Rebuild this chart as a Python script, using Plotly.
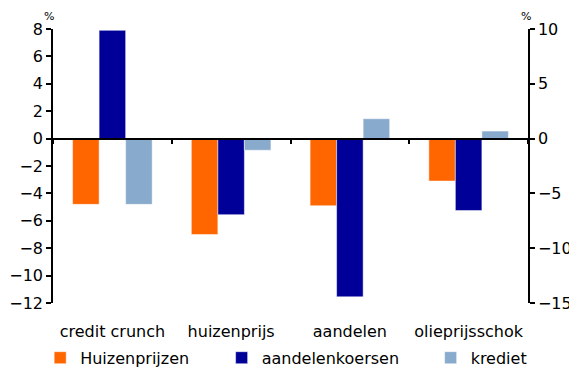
import plotly.graph_objects as go

# Scenario categories and the three shocked series (percent deviation)
categories = ["credit crunch", "huizenprijs", "aandelen", "olieprijsschok"]
huizenprijzen = [-4.8, -7.0, -4.9, -3.1]
aandelenkoersen = [7.9, -5.55, -11.55, -5.25]
krediet = [-4.8, -0.85, 1.45, 0.55]

series_names = ["Huizenprijzen", "aandelenkoersen", "krediet"]
series_values = [huizenprijzen, aandelenkoersen, krediet]
series_colors = ["#FF6600", "#000099", "#88AACC"]

left_ticks = list(range(-12, 9, 2))
right_ticks = list(range(-15, 11, 5))

FONT = "DejaVu Sans"

fig = go.Figure()
legend_ids = ["legend", "legend2", "legend3"]
for name, vals, col, lg in zip(series_names, series_values, series_colors, legend_ids):
    fig.add_trace(go.Bar(
        x=categories, y=vals, name=name,
        marker=dict(color=col, line=dict(color="rgba(255,255,255,0.6)", width=0.8)),
        legend=lg,
    ))

legend_common = dict(orientation="h", yanchor="middle", y=-0.2,
                     xanchor="left", bgcolor="rgba(0,0,0,0)",
                     font=dict(family=FONT, size=16, color="#000"),
                     itemwidth=30, tracegroupgap=0)

fig.update_layout(
    width=569, height=370,
    margin=dict(l=53, r=41, t=29, b=67, autoexpand=False),
    paper_bgcolor="white", plot_bgcolor="white",
    barmode="group", bargap=0.33, bargroupgap=0,
    showlegend=True,
    legend=dict(x=-0.027, **legend_common),
    legend2=dict(x=0.355, **legend_common),
    legend3=dict(x=0.795, **legend_common),
    xaxis=dict(
        type="category", anchor="free", position=0.6,
        showline=True, linecolor="#000", linewidth=1.5,
        ticks="outside", tickson="boundaries", ticklen=5,
        tickcolor="#000", tickwidth=1.5,
        tickangle=0, ticklabelstandoff=178,
        tickfont=dict(family=FONT, size=16, color="#000"),
        showgrid=False, zeroline=False,
    ),
    yaxis=dict(
        range=[-12, 8], tickvals=left_ticks,
        ticks="outside", ticklen=5, tickcolor="#000", tickwidth=1.5,
        showline=True, linecolor="#000", linewidth=1.5,
        showgrid=False, zeroline=False,
        tickfont=dict(family=FONT, size=16, color="#000"),
    ),
    yaxis2=dict(
        range=[-15, 10], tickvals=right_ticks, overlaying="y", side="right",
        ticks="outside", ticklen=5, tickcolor="#000", tickwidth=1.5,
        showline=True, linecolor="#000", linewidth=1.5,
        showgrid=False, zeroline=False,
        tickfont=dict(family=FONT, size=16, color="#000"),
    ),
)

# "%" unit markers above both value axes
for xp, shift in [(0.0, -4), (1.0, -2)]:
    fig.add_annotation(x=xp, y=1.0, xref="paper", yref="paper", text="%",
                       showarrow=False, xanchor="center", yanchor="bottom",
                       xshift=shift, yshift=4,
                       font=dict(family=FONT, size=11, color="#000"))

# invisible trace keeps the right axis drawn
fig.add_trace(go.Scatter(x=categories, y=[0] * len(categories), yaxis="y2",
                         mode="markers", marker=dict(opacity=0),
                         showlegend=False, hoverinfo="skip"))

fig.write_html("out.html")
